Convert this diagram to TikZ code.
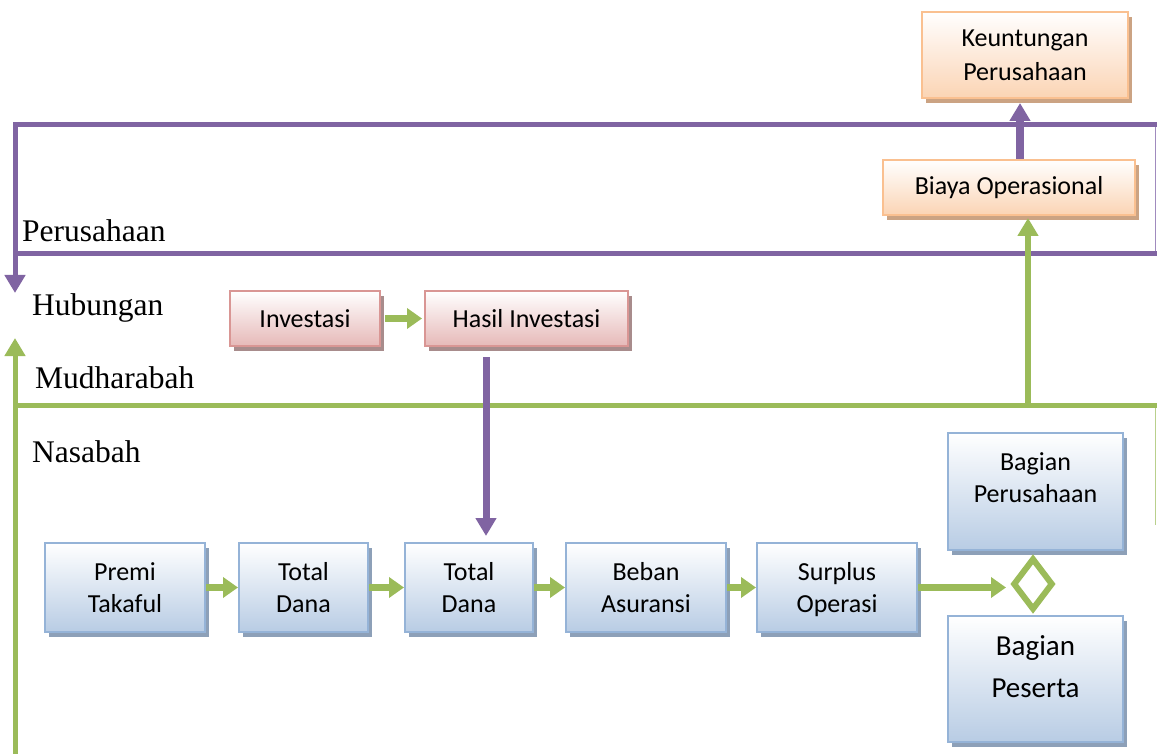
\documentclass[tikz,border=0pt]{standalone}
\usepackage{fontspec}
\setmainfont{Carlito}
\newfontfamily\tnr{Liberation Serif}
\usetikzlibrary{arrows.meta,shadows,shapes.geometric}
\definecolor{purp}{HTML}{8064A2}
\definecolor{purpthin}{HTML}{A08BBE}
\definecolor{grn}{HTML}{9BBB59}
\definecolor{grnthin}{HTML}{B9D08C}
\definecolor{bborder}{HTML}{95B3D7}
\definecolor{bfill}{HTML}{B8CCE4}
\definecolor{bshadow}{HTML}{8DA0B8}
\definecolor{oborder}{HTML}{FAC090}
\definecolor{ofill}{HTML}{FBD4B4}
\definecolor{oshadow}{HTML}{CBA383}
\definecolor{pborder}{HTML}{D99694}
\definecolor{pfill}{HTML}{E6B9B8}
\definecolor{pshadow}{HTML}{A88C8C}
\begin{document}
\begin{tikzpicture}[x=1pt,y=-1pt,
  box/.style={rectangle, inner sep=0pt, align=center, line width=2pt, font=\fontsize{26}{32}\selectfont},
  bluebox/.style={box, draw=bborder, top color=white, bottom color=bfill,
    drop shadow={shadow xshift=4pt, shadow yshift=-5pt, fill=bshadow, opacity=1}},
  orangebox/.style={box, draw=oborder, top color=white, bottom color=ofill,
    drop shadow={shadow xshift=4pt, shadow yshift=-5pt, fill=oshadow, opacity=1}},
  pinkbox/.style={box, draw=pborder, top color=white, bottom color=pfill,
    drop shadow={shadow xshift=4pt, shadow yshift=-5pt, fill=pshadow, opacity=1}},
  boxtext/.style={inner sep=0pt, align=center, font=\fontsize{26}{32}\selectfont},
  lbl/.style={inner sep=0pt, anchor=base west, font=\tnr\fontsize{31.5}{36}\selectfont},
  garrow/.style={draw=grn, line width=7pt, -{Triangle[width=20pt,length=15pt]}},
  gline/.style={draw=grn, line width=5pt},
  pline/.style={draw=purp, line width=5pt},
  vtip/.style={-{Triangle[width=20pt,length=18pt]}},
]
\useasboundingbox (0,0) rectangle (1157,754);

% frame lines
\coordinate (pTR) at (1157,125);
\coordinate (pTL) at (15,125);
\coordinate (pArr) at (15,293);
\coordinate (pBL) at (15,254);
\coordinate (pBR) at (1157,254);
\coordinate (pRT) at (1155.5,125);
\coordinate (pRB) at (1155.5,254);
\coordinate (gB) at (15,756);
\coordinate (gArr) at (15,338);
\coordinate (gL) at (13,405);
\coordinate (gR) at (1157,405);
\coordinate (gRT) at (1155.5,405);
\coordinate (gRB) at (1155.5,525);

\draw[purpthin, line width=1.5pt] (pRT) -- (pRB);
\draw[grnthin, line width=1.5pt] (gRT) -- (gRB);
\draw[pline, vtip] (pTR) -- (pTL) -- (pArr);
\draw[pline] (pBL) -- (pBR);
\draw[gline, vtip] (gB) -- (gArr);
\draw[gline] (gL) -- (gR);

% labels
\node[lbl] (lp) at (22,242) {Perusahaan};
\node[lbl] (lh) at (32,315) {Hubungan};
\node[lbl] (lm) at (35,388) {Mudharabah};
\node[lbl] (ln) at (32,462) {Nasabah};

% boxes
\node[orangebox, font=\fontsize{26}{34}\selectfont, minimum width=206pt, minimum height=86pt] (ku) at (1025,55) {Keuntungan\\Perusahaan};
\node[orangebox, minimum width=252pt, minimum height=55pt] (bo) at (1009,187.5) {Biaya Operasional};
\node[pinkbox, minimum width=150pt, minimum height=55pt] (inv) at (305,318.5) {Investasi};
\node[pinkbox, minimum width=203pt, minimum height=55pt] (hi) at (526.5,318.5) {Hasil Investasi};

\node[bluebox, minimum width=160pt, minimum height=89pt] (pt) at (125,587.5) {Premi\\Takaful};
\node[bluebox, minimum width=129pt, minimum height=89pt] (td1) at (303.5,587.5) {Total\\Dana};
\node[bluebox, minimum width=128pt, minimum height=89pt] (td2) at (469,587.5) {Total\\Dana};
\node[bluebox, minimum width=160pt, minimum height=89pt] (ba) at (646,587.5) {Beban\\Asuransi};
\node[bluebox, minimum width=160pt, minimum height=89pt] (so) at (837,587.5) {Surplus\\O\smash{p}erasi};

\node[bluebox, minimum width=175pt, minimum height=117pt] (bp) at (1035.5,491.5) {};
\node[boxtext] (bpt) at (1035.5,478) {Bagian\\Perusahaan};
\node[bluebox, minimum width=175pt, minimum height=126pt] (bs) at (1035.5,679) {};
\node[boxtext, font=\fontsize{29}{42}\selectfont] (bst) at (1035.5,667) {Bagian\\Peserta};

\node[diamond, draw=grn, line width=6pt, fill=white, minimum width=40pt, minimum height=52pt, inner sep=0pt] (dm) at (1033,584) {};

% connectors
\draw[garrow] (pt.east) -- (td1.west);
\draw[garrow] (td1.east) -- (td2.west);
\draw[garrow] (td2.east) -- (ba.west);
\draw[garrow] (ba.east) -- (so.west);
\draw[garrow, shorten >=4pt] (so.east) -- (dm.west |- so.east);
\draw[garrow, shorten <=4pt, shorten >=2pt] (inv.east) -- (hi.west);

\coordinate (pd) at (486,0);
\draw[draw=purp, line width=7pt, vtip, shorten <=10pt, shorten >=6pt] (hi.south -| pd) -- (td2.north -| pd);
\coordinate (gu) at (1028,405);
\draw[draw=grn, line width=6pt, vtip, shorten >=2pt] (gu) -- (bo.south -| gu);
\coordinate (pu) at (1020,0);
\draw[draw=purp, line width=8pt, vtip, shorten >=4pt] (bo.north -| pu) -- (ku.south -| pu);
\end{tikzpicture}
\end{document}
